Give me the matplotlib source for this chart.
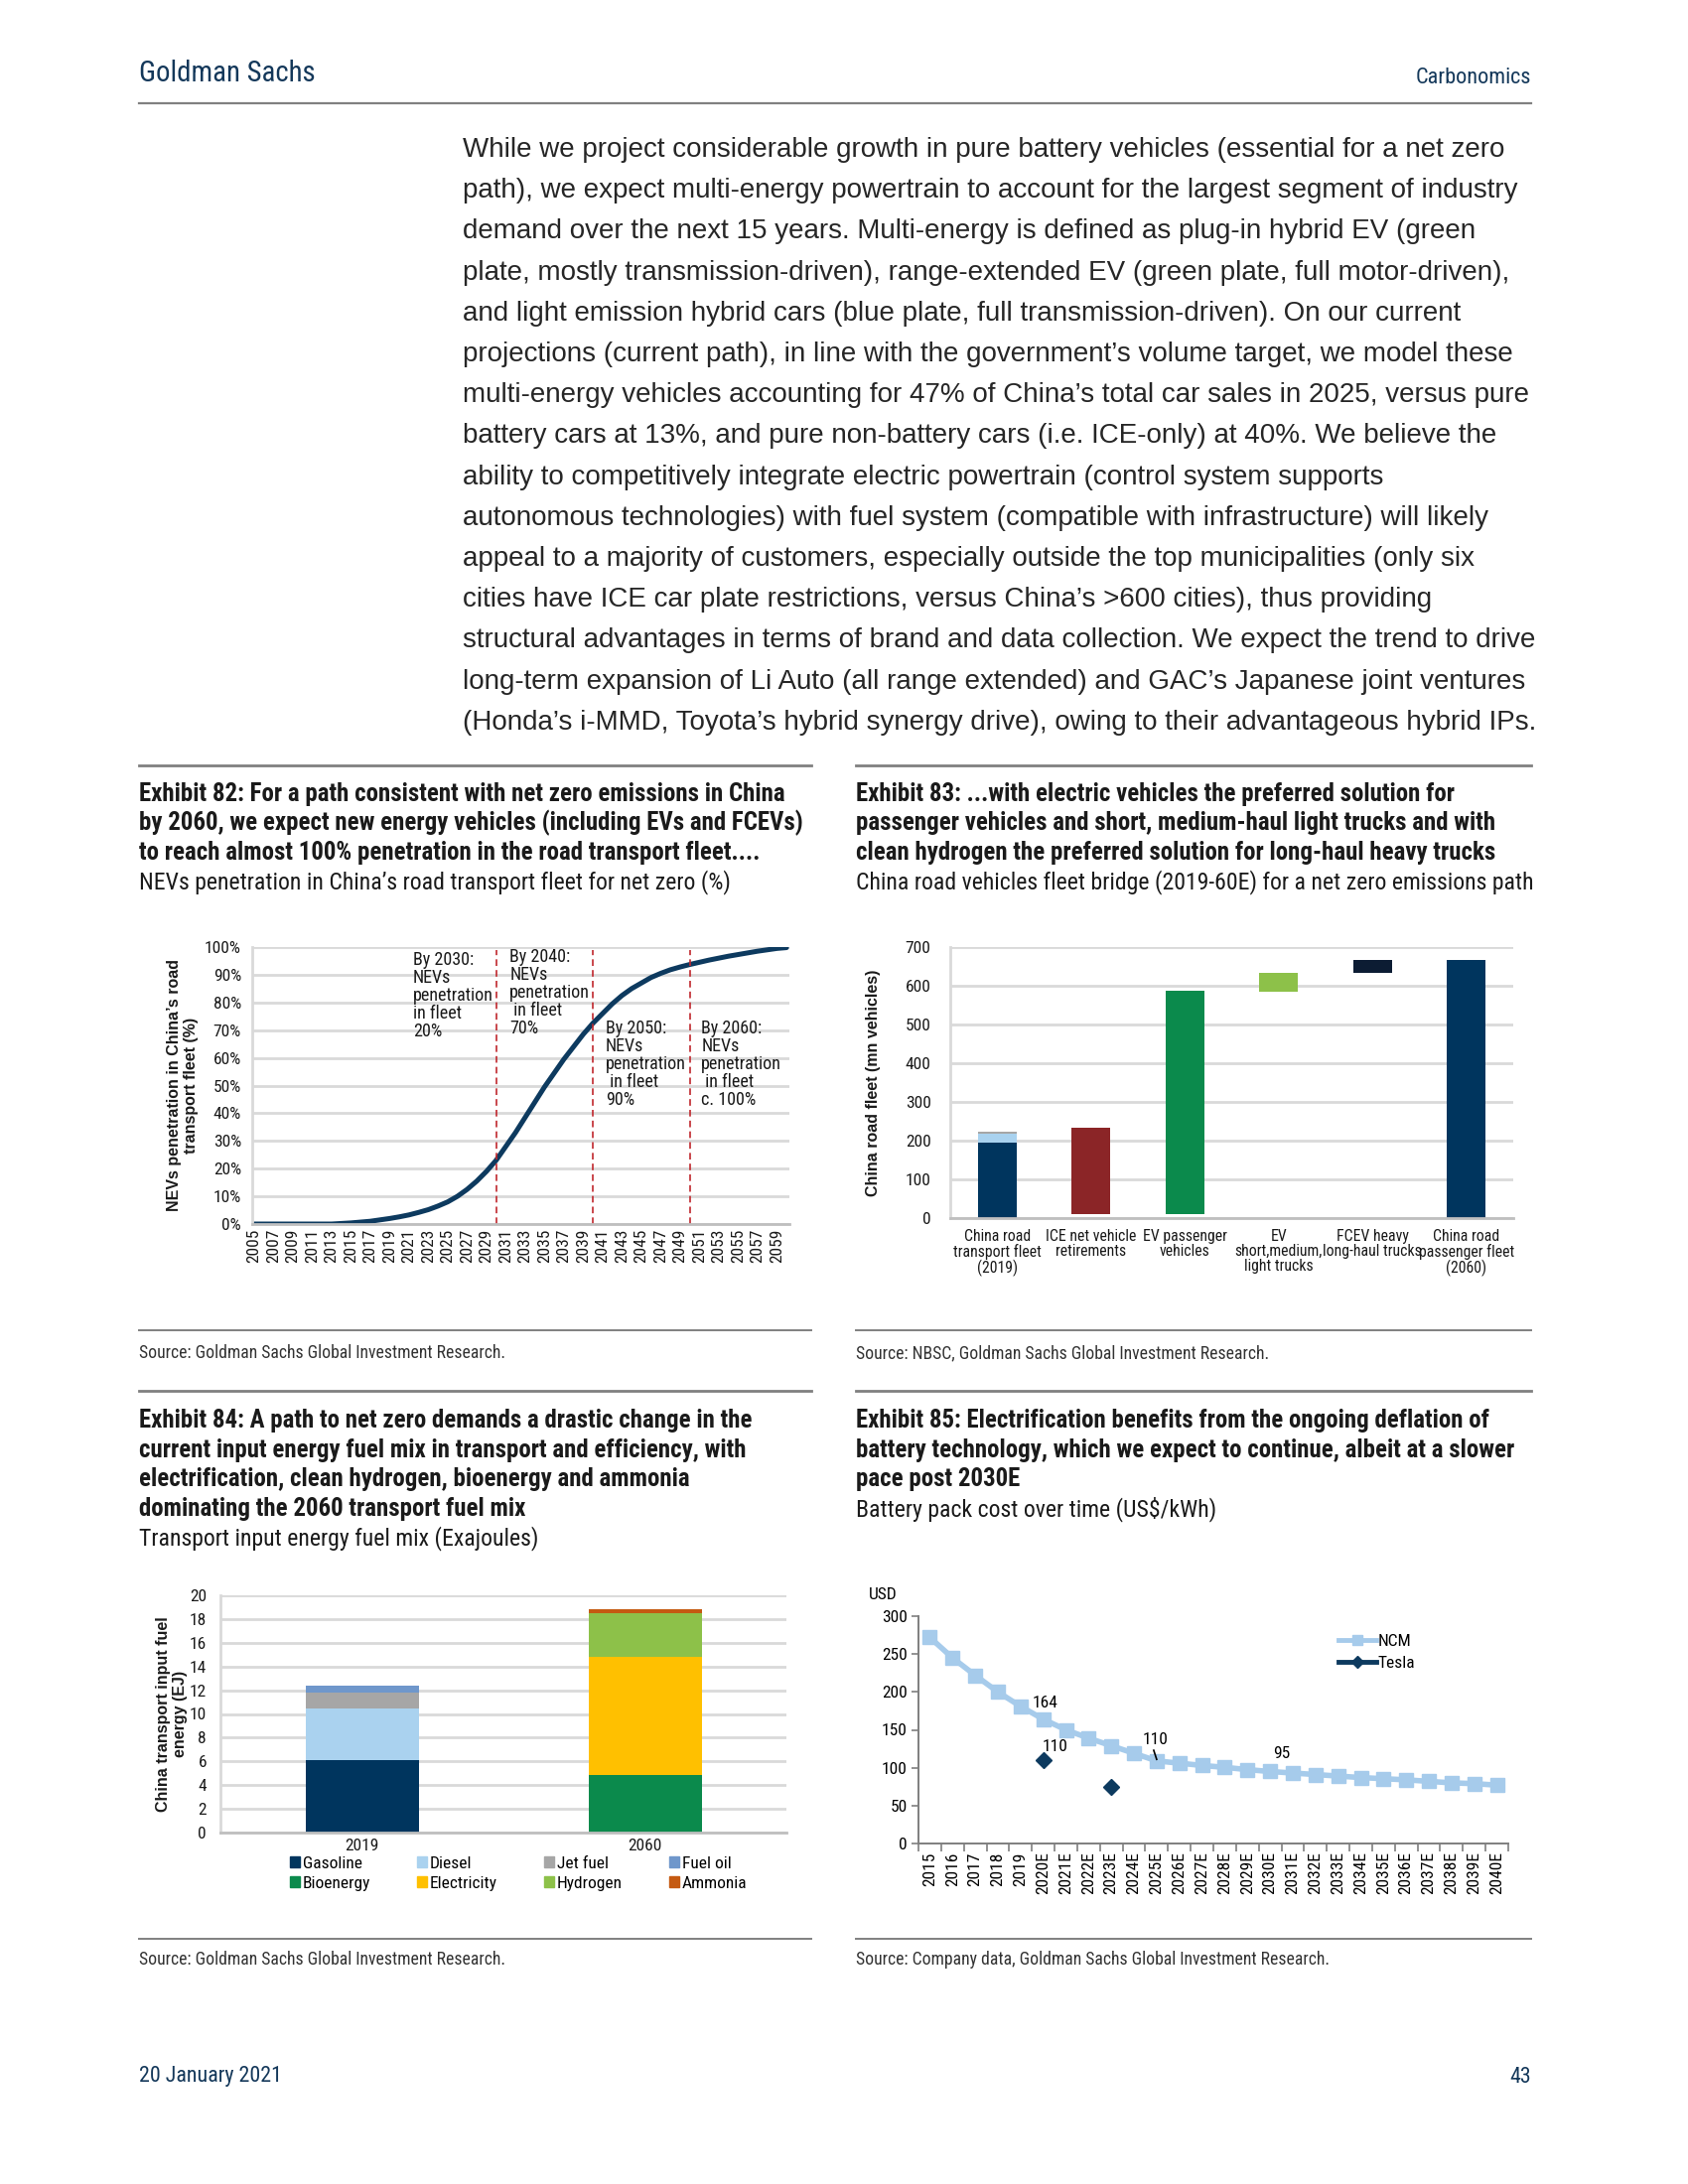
import matplotlib
matplotlib.use("Agg")
import matplotlib.pyplot as plt
from matplotlib import font_manager as fm
from matplotlib.font_manager import FontProperties
from matplotlib.textpath import TextPath
from matplotlib.lines import Line2D
from matplotlib.patches import Patch
import numpy as np

ARIAL = ['Liberation Sans', 'DejaVu Sans']
plt.rcParams['font.family'] = ARIAL

W, H, DPI = 1700, 2200, 100
NAVY = '#0D3A5F'
GRID = '#D9D9D9'

## data -------------------------------------------------------------
body_lines = [
    "While we project considerable growth in pure battery vehicles (essential for a net zero",
    "path), we expect multi-energy powertrain to account for the largest segment of industry",
    "demand over the next 15 years. Multi-energy is defined as plug-in hybrid EV (green",
    "plate, mostly transmission-driven), range-extended EV (green plate, full motor-driven),",
    "and light emission hybrid cars (blue plate, full transmission-driven). On our current",
    "projections (current path), in line with the government\u2019s volume target, we model these",
    "multi-energy vehicles accounting for 47% of China\u2019s total car sales in 2025, versus pure",
    "battery cars at 13%, and pure non-battery cars (i.e. ICE-only) at 40%. We believe the",
    "ability to competitively integrate electric powertrain (control system supports",
    "autonomous technologies) with fuel system (compatible with infrastructure) will likely",
    "appeal to a majority of customers, especially outside the top municipalities (only six",
    "cities have ICE car plate restrictions, versus China\u2019s >600 cities), thus providing",
    "structural advantages in terms of brand and data collection. We expect the trend to drive",
    "long-term expansion of Li Auto (all range extended) and GAC\u2019s Japanese joint ventures",
    "(Honda\u2019s i-MMD, Toyota\u2019s hybrid synergy drive), owing to their advantageous hybrid IPs.",
]

# Exhibit 82
nev_years = list(range(2005, 2061))
nev_pct = [0, 0, 0, 0, 0, 0, 0, 0, 0, 0.2, 0.4, 0.7, 1.0, 1.5, 2.0, 2.6, 3.3, 4.2,
           5.2, 6.5, 8.0, 10.0, 12.5, 15.5, 19.0, 23.0, 28.0, 33.0, 38.5, 44.0, 49.5,
           54.5, 59.5, 64.0, 68.5, 72.5, 76.0, 79.5, 82.5, 85.0, 87.0, 89.0, 90.5,
           91.8, 92.8, 93.7, 94.5, 95.3, 96.0, 96.7, 97.3, 97.9, 98.5, 99.0, 99.5, 99.8]
milestone_years = [2030, 2040, 2050]
milestone_notes = [
    (2021.4, 98.5, "By 2030:\nNEVs\npenetration\nin fleet\n20%"),
    (2031.4, 99.5, "By 2040:\nNEVs\npenetration\n in fleet\n70%"),
    (2041.3, 74, "By 2050:\nNEVs\npenetration\n in fleet\n90%"),
    (2051.2, 74, "By 2060:\nNEVs\npenetration\n in fleet\nc. 100%"),
]

# Exhibit 83
fleet_cats = ['China road\ntransport fleet\n(2019)', 'ICE net vehicle\nretirements',
              'EV passenger\nvehicles', 'EV\nshort,medium,\nlight trucks',
              'FCEV heavy\nlong-haul trucks', 'China road\npassenger fleet\n(2060)']
fleet_base = [0, 10, 10, 584, 633, 0]
fleet_top = [196, 233, 587, 634, 667, 667]
fleet_colors = ['#00355E', '#8B2527', '#0B8A4C', '#8DC149', '#0C1C33', '#00355E']
fleet_2019_extra = [21, 7]
fleet_2019_extra_colors = ['#A9D2EF', '#A6A6A6']

# Exhibit 84
mix_years = ['2019', '2060']
mix_fuels = ['Gasoline', 'Diesel', 'Jet fuel', 'Fuel oil',
             'Bioenergy', 'Electricity', 'Hydrogen', 'Ammonia']
mix_2019 = [6.1, 4.4, 1.3, 0.55, 0, 0, 0, 0]
mix_2060 = [0, 0, 0, 0, 4.85, 10.0, 3.65, 0.35]
mix_colors = ['#00355E', '#AAD2EF', '#A6A6A6', '#6F97CB',
              '#0B8A4C', '#FFC000', '#8DC149', '#C55A11']

# Exhibit 85
cost_labels = ['2015', '2016', '2017', '2018', '2019'] + ['%dE' % y for y in range(2020, 2041)]
ncm_cost = [272, 245, 222, 200, 181, 164, 150, 139, 129, 119, 109, 106, 103, 100.5,
            97.5, 95, 93, 91, 89, 87, 85.5, 84, 82, 80, 79, 77]
tesla_cost = [np.nan] * 5 + [110, np.nan, np.nan, 75] + [np.nan] * 17

## fonts: look for an installed condensed face ------------------------
cond = {}
for f in fm.fontManager.ttflist:
    st = str(f.stretch)
    if 'condensed' in st or 'Narrow' in f.name or 'Condensed' in f.name:
        cond.setdefault(f.name, st)
pref = ['Liberation Sans Narrow', 'Roboto Condensed', 'Open Sans Condensed',
        'Noto Sans', 'Open Sans', 'Roboto', 'DejaVu Sans']
pick = next((n for n in pref if n in cond), next(iter(cond), None))


def cprop(size, weight='normal'):
    if pick is None:
        return FontProperties(family=ARIAL, size=size, weight=weight)
    return FontProperties(family=[pick] + ARIAL, stretch=cond[pick], size=size, weight=weight)


def fit(s, target_px, prop):
    p = prop.copy()
    p.set_size(100)
    w = TextPath((0, 0), s, prop=p).get_extents().width
    return target_px * 100 * 72 / (w * DPI)


HAS_COND = pick is not None
tick_fs = 12.5 if HAS_COND else 11
note_fs = 13 if HAS_COND else 11.5

## helpers -----------------------------------------------------------
fig = plt.figure(figsize=(W / DPI, H / DPI), dpi=DPI)


def fx(x):
    return x / W


def fy(y):
    return 1 - y / H


def put(x, y, s, **kw):
    kw.setdefault('va', 'center')
    fig.text(fx(x), fy(y), s, **kw)


def rule(x0, x1, y, lw=2.0, color='#808080'):
    fig.add_artist(Line2D([fx(x0), fx(x1)], [fy(y), fy(y)], color=color, lw=lw,
                          transform=fig.transFigure))


def box(l, t, r, b):
    return fig.add_axes([fx(l), fy(b), (r - l) / W, (b - t) / H])


## page furniture ----------------------------------------------------
p = cprop(10)
p.set_size(fit("Goldman Sachs", 174, p))
put(140, 74, "Goldman Sachs", fontproperties=p, color='#14385A')
p = cprop(10)
p.set_size(fit("Carbonomics", 114, p))
put(1542, 79, "Carbonomics", fontproperties=p, color='#14385A', ha='right')
rule(140, 1542, 104, lw=1.6)

bp = FontProperties(family=ARIAL, size=10)
bp.set_size(fit(body_lines[0], 1050, bp))
for i, line in enumerate(body_lines):
    put(466, 151 + i * 41.2, line, fontproperties=bp, color='#262626')

LX, RX = 140, 862
tp = cprop(10, 'bold')
tp.set_size(fit("Exhibit 82: For a path consistent with net zero emissions in China", 649, tp))
sp = cprop(10)
sp.set_size(fit("NEVs penetration in China\u2019s road transport fleet for net zero (%)", 592, sp))
srp = cprop(10)
srp.set_size(fit("Source: Goldman Sachs Global Investment Research.", 367, srp))
title_kw = dict(fontproperties=tp, color='#1A1A1A')
sub_kw = dict(fontproperties=sp, color='#1A1A1A')
src_kw = dict(fontproperties=srp, color='#333333')

rule(140, 817, 771)
rule(862, 1542, 771)
t82 = ["Exhibit 82: For a path consistent with net zero emissions in China",
       "by 2060, we expect new energy vehicles (including EVs and FCEVs)",
       "to reach almost 100% penetration in the road transport fleet...."]
t83 = ["Exhibit 83: ...with electric vehicles the preferred solution for",
       "passenger vehicles and short, medium-haul light trucks and with",
       "clean hydrogen the preferred solution for long-haul heavy trucks"]
for i in range(3):
    put(LX, 800 + i * 29.3, t82[i], **title_kw)
    put(RX, 800 + i * 29.3, t83[i], **title_kw)
put(LX, 889, "NEVs penetration in China\u2019s road transport fleet for net zero (%)", **sub_kw)
put(RX, 889, "China road vehicles fleet bridge (2019-60E) for a net zero emissions path", **sub_kw)

rule(140, 817, 1340, lw=1.4)
rule(862, 1542, 1340, lw=1.4)
put(LX, 1363, "Source: Goldman Sachs Global Investment Research.", **src_kw)
put(RX, 1363, "Source: NBSC, Goldman Sachs Global Investment Research.", **src_kw)

rule(140, 817, 1401)
rule(862, 1542, 1401)
t84 = ["Exhibit 84: A path to net zero demands a drastic change in the",
       "current input energy fuel mix in transport and efficiency, with",
       "electrification, clean hydrogen, bioenergy and ammonia",
       "dominating the 2060 transport fuel mix"]
t85 = ["Exhibit 85: Electrification benefits from the ongoing deflation of",
       "battery technology, which we expect to continue, albeit at a slower",
       "pace post 2030E"]
for i, s in enumerate(t84):
    put(LX, 1431 + i * 29.6, s, **title_kw)
for i, s in enumerate(t85):
    put(RX, 1431 + i * 29.6, s, **title_kw)
put(LX, 1550, "Transport input energy fuel mix (Exajoules)", **sub_kw)
put(RX, 1520, "Battery pack cost over time (US$/kWh)", **sub_kw)

rule(140, 817, 1953, lw=1.4)
rule(862, 1542, 1953, lw=1.4)
put(LX, 1974, "Source: Goldman Sachs Global Investment Research.", **src_kw)
put(RX, 1974, "Source: Company data, Goldman Sachs Global Investment Research.", **src_kw)

fp = cprop(10)
fp.set_size(fit("20 January 2021", 139, fp))
put(140, 2092, "20 January 2021", fontproperties=fp, color='#14385A')
put(1542, 2092, "43", fontproperties=fp, color='#14385A', ha='right')

lab_kw = dict(fontsize=11.5, fontweight='bold', family=ARIAL, color='#1A1A1A')


def style_grid(ax):
    ax.grid(axis='y', color=GRID, lw=2)
    ax.set_axisbelow(True)
    for s in ['top', 'right']:
        ax.spines[s].set_visible(False)
    ax.spines['left'].set_color(GRID)
    ax.spines['left'].set_linewidth(2)
    ax.spines['bottom'].set_color('#BFBFBF')
    ax.spines['bottom'].set_linewidth(2)
    ax.tick_params(length=0, colors='#1A1A1A')


def narrow_ticks(ax, size=None):
    for lab in ax.get_xticklabels() + ax.get_yticklabels():
        lab.set_fontproperties(cprop(size or tick_fs))


## Exhibit 82 --------------------------------------------------------
ax = box(254, 954, 795, 1233)
style_grid(ax)
ax.plot(nev_years, nev_pct, color=NAVY, lw=3.6, solid_capstyle='round')
for yr in milestone_years:
    ax.plot([yr, yr], [0, 99], color='#C0272D', lw=1.2, ls=(0, (4, 2.5)))
for x, y, s in milestone_notes:
    ax.text(x, y, s, fontproperties=cprop(note_fs), ha='left', va='top',
            linespacing=1.0, color='#1A1A1A')
ax.set_xlim(2004.8, 2060.3)
ax.set_ylim(0, 100)
ax.set_yticks(range(0, 101, 10))
ax.set_yticklabels(['%d%%' % v for v in range(0, 101, 10)])
ax.set_xticks(range(2005, 2060, 2))
ax.set_xticklabels([str(y) for y in range(2005, 2060, 2)], rotation=90)
narrow_ticks(ax)
ax.tick_params(axis='y', pad=8)
ax.set_ylabel("NEVs penetration in China\u2019s road\ntransport fleet (%)", labelpad=4, **lab_kw)

## Exhibit 83 --------------------------------------------------------
ax = box(957, 954, 1524, 1227)
style_grid(ax)
xs = np.arange(len(fleet_cats))
heights = [t - b for t, b in zip(fleet_top, fleet_base)]
ax.bar(xs, heights, bottom=fleet_base, width=0.41, color=fleet_colors)
bot = fleet_top[0]
for h, c in zip(fleet_2019_extra, fleet_2019_extra_colors):
    ax.bar(0, h, bottom=bot, width=0.41, color=c)
    bot += h
ax.set_xlim(-0.5, 5.5)
ax.set_ylim(0, 700)
ax.set_yticks(range(0, 701, 100))
ax.set_xticks(xs)
ax.set_xticklabels(fleet_cats, linespacing=1.0)
narrow_ticks(ax)
for lab in ax.get_xticklabels():
    lab.set_fontsize(tick_fs - 1.2)
ax.tick_params(axis='y', pad=14)
ax.tick_params(axis='x', pad=8)
ax.set_ylabel("China road fleet (mn vehicles)", labelpad=18, **lab_kw)

## Exhibit 84 --------------------------------------------------------
ax = box(222, 1607, 792, 1846)
style_grid(ax)
bottoms = np.zeros(2)
handles = []
for i, fuel in enumerate(mix_fuels):
    vals = np.array([mix_2019[i], mix_2060[i]])
    ax.bar([0, 1], vals, bottom=bottoms, width=0.4, color=mix_colors[i])
    bottoms += vals
    handles.append(Patch(color=mix_colors[i], label=fuel))
ax.set_xlim(-0.5, 1.5)
ax.set_ylim(0, 20)
ax.set_yticks(range(0, 21, 2))
ax.set_xticks([0, 1])
ax.set_xticklabels(mix_years)
narrow_ticks(ax)
ax.tick_params(axis='y', pad=10)
ax.tick_params(axis='x', pad=4)
ax.set_ylabel("China transport input fuel\nenergy (EJ)", labelpad=1, **lab_kw)
order = [0, 4, 1, 5, 2, 6, 3, 7]
ax.legend([handles[i] for i in order], [mix_fuels[i] for i in order], ncol=4,
          loc='upper left', bbox_to_anchor=(0.11, -0.07), frameon=False,
          prop=cprop(tick_fs), handlelength=0.6, handleheight=0.6, handletextpad=0.15,
          columnspacing=2.7 if HAS_COND else 2.2, labelspacing=0.3, borderaxespad=0)

## Exhibit 85 --------------------------------------------------------
ax = box(925, 1628, 1519, 1857)
xs = np.arange(len(cost_labels))
ax.plot(xs, ncm_cost, color='#A6CBEB', lw=4, marker='s', ms=10, label='NCM')
ax.plot(xs, tesla_cost, color=NAVY, lw=3.5, marker='D', ms=8.5, ls='None', label='Tesla')
ax.set_xlim(-0.5, len(cost_labels) - 0.5)
ax.set_ylim(0, 300)
ax.set_yticks(range(0, 301, 50))
ax.set_xticks(xs)
ax.set_xticklabels(cost_labels, rotation=90)
ax.set_xticks(np.arange(-0.5, len(cost_labels)), minor=True)
narrow_ticks(ax)
for s in ['top', 'right']:
    ax.spines[s].set_visible(False)
for s in ['left', 'bottom']:
    ax.spines[s].set_color('#7F7F7F')
    ax.spines[s].set_linewidth(1.4)
ax.tick_params(axis='x', which='major', length=0, pad=6)
ax.tick_params(axis='x', which='minor', length=6, width=1.2, color='#7F7F7F')
ax.tick_params(axis='y', length=5, width=1.2, color='#7F7F7F', pad=3)
ax.text(-0.085, 1.06, "USD", transform=ax.transAxes, fontproperties=cprop(tick_fs),
        ha='left', va='bottom')
ax.text(5.1, 185, "164", fontproperties=cprop(tick_fs), ha='center', va='center')
ax.text(5.5, 128, "110", fontproperties=cprop(tick_fs), ha='center', va='center')
ax.text(9.95, 137, "110", fontproperties=cprop(tick_fs), ha='center', va='center')
ax.plot([9.87, 10.0], [123, 111], color='black', lw=1.2)
ax.text(15.5, 118, "95", fontproperties=cprop(tick_fs), ha='center', va='center')
leg = [Line2D([], [], color='#A6CBEB', lw=3.5, marker='s', ms=7),
       Line2D([], [], color=NAVY, lw=3.5, marker='D', ms=6)]
ax.legend(leg, ['NCM', 'Tesla'], loc='upper left', bbox_to_anchor=(0.685, 0.99),
          frameon=False, prop=cprop(tick_fs), handlelength=2.2, handletextpad=0.1,
          labelspacing=0.4)

fig.savefig('out.png', dpi=DPI)
